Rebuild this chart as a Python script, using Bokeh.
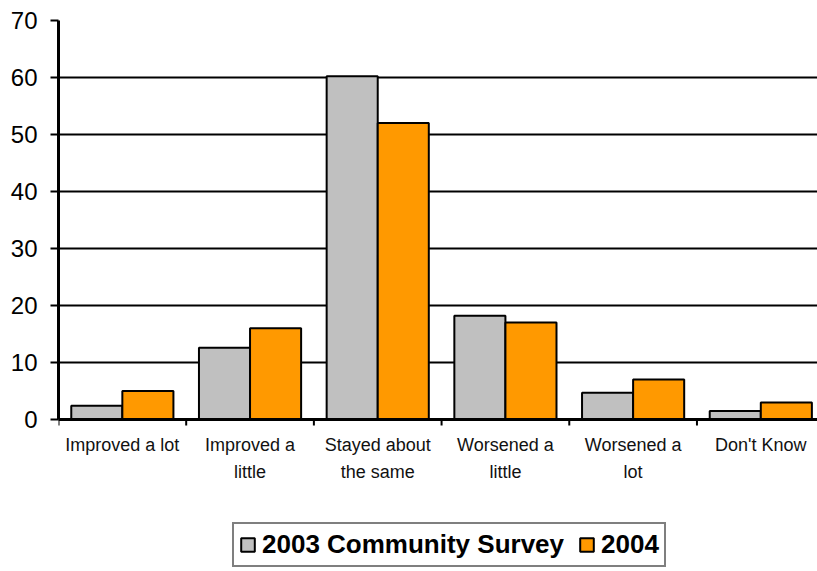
from bokeh.plotting import figure
from bokeh.models import Range1d, FixedTicker, ColumnDataSource, Legend, LegendItem, Span
from bokeh.core.properties import value
from bokeh.embed import file_html
from bokeh.resources import INLINE

# ---- data ----
categories = ["Improved a lot", "Improved a\nlittle", "Stayed about\nthe same",
              "Worsened a\nlittle", "Worsened a\nlot", "Don't Know"]
series_names = ["2003 Community Survey", "2004"]
values_2003 = [2.4, 12.6, 60.2, 18.2, 4.7, 1.5]
values_2004 = [5.0, 16.0, 52.0, 17.0, 7.0, 3.0]
y_ticks = [0, 10, 20, 30, 40, 50, 60, 70]

colors = ["#C0C0C0", "#FF9900"]

n = len(categories)
centers = [i + 0.5 for i in range(n)]
x2003 = [i + 0.3 for i in range(n)]
x2004 = [i + 0.7 for i in range(n)]
boundaries = list(range(n + 1))

y_lo = -26.667
y_hi = 70
frame_h = 551
px_per_unit = frame_h / (y_hi - y_lo)

p = figure(width=817, height=571, output_backend="svg", toolbar_location=None,
           x_range=Range1d(0, 5.944), y_range=Range1d(y_lo, y_hi),
           x_axis_location=None,
           min_border_left=58, min_border_right=0, min_border_top=20,
           min_border_bottom=0)
p.outline_line_color = None
p.background_fill_color = "white"
p.border_fill_color = "white"

src03 = ColumnDataSource(dict(x=x2003, top=values_2003))
src04 = ColumnDataSource(dict(x=x2004, top=values_2004))
r1 = p.vbar(x="x", top="top", width=0.4, bottom=0, source=src03,
            fill_color=colors[0], line_color="black", line_width=2)
r2 = p.vbar(x="x", top="top", width=0.4, bottom=0, source=src04,
            fill_color=colors[1], line_color="black", line_width=2)

# grid
p.xgrid.visible = False
p.ygrid.grid_line_color = "black"
p.ygrid.grid_line_width = 2
p.ygrid.ticker = FixedTicker(ticks=y_ticks)

# y axis
p.yaxis.ticker = FixedTicker(ticks=y_ticks)
p.yaxis.bounds = (0, 70)
p.yaxis.axis_line_color = "black"
p.yaxis.axis_line_width = 3
p.yaxis.major_tick_out = 8
p.yaxis.major_tick_in = 0
p.yaxis.major_tick_line_width = 2
p.yaxis.minor_tick_line_color = None
p.yaxis.major_label_text_font = "Liberation Sans"
p.yaxis.major_label_text_font_size = "24px"
p.yaxis.major_label_text_color = "black"
p.yaxis.major_label_standoff = 13

# category axis drawn at y = 0
p.add_layout(Span(location=0, dimension="width", line_color="black", line_width=3))
tick_len = 6 / px_per_unit
p.segment(x0=boundaries, y0=[0] * len(boundaries), x1=boundaries,
          y1=[-tick_len] * len(boundaries), line_color="black", line_width=2)
p.text(x=centers, y=[0] * n, text=categories,
       text_font=value("Liberation Sans"), text_font_size=value("18px"),
       text_align="center", text_baseline="top", text_color="#111111",
       text_line_height=1.33, y_offset=16)

legend = Legend(items=[LegendItem(label=series_names[0], renderers=[r1]),
                       LegendItem(label=series_names[1], renderers=[r2])],
                orientation="horizontal", location=(174, 4))
legend.label_text_font = "Liberation Sans"
legend.label_text_font_style = "bold"
legend.label_text_font_size = "26px"
legend.label_text_color = "black"
legend.glyph_width = 17
legend.glyph_height = 17
legend.label_standoff = 6
legend.spacing = 14
legend.padding = 5
legend.margin = 0
legend.border_line_color = "black"
legend.border_line_width = 2
legend.background_fill_color = "white"
p.add_layout(legend)

open("out.html", "w").write(file_html(p, INLINE))
